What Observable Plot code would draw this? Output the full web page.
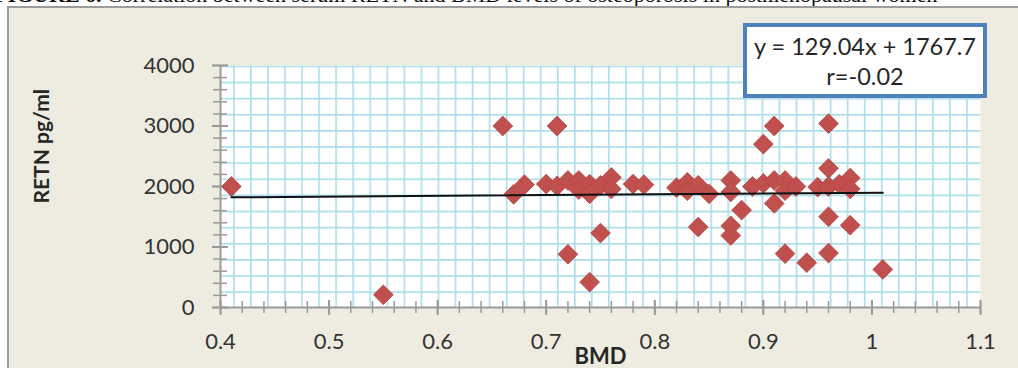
<!DOCTYPE html>
<html><head><meta charset="utf-8">
<script src="https://cdn.jsdelivr.net/npm/d3@7"></script>
<script src="https://cdn.jsdelivr.net/npm/@observablehq/plot@0.6"></script>
<style>
html,body{margin:0;padding:0;background:#fff;width:1018px;height:368px;overflow:hidden;position:relative;}
#cap{position:absolute;left:0;top:0;width:1018px;height:6px;overflow:hidden;}
#cap span{position:absolute;left:-6px;top:-16px;white-space:nowrap;font-family:"Liberation Serif",serif;font-size:22px;line-height:22px;color:#111;}
#frame{position:absolute;left:7px;top:6px;width:1011px;height:362px;background:#EEECE1;border-left:2px solid #9C9C9C;border-top:2px solid #9C9C9C;}
#chart{position:absolute;left:0;top:0;}
#legend{position:absolute;left:743px;top:23px;width:244px;height:75px;box-sizing:border-box;border:4px solid #4F81BD;background:#fff;text-align:center;font-family:Lato,sans-serif;font-size:23.5px;line-height:30px;color:#262626;padding-top:4px;}
</style></head>
<body>
<div id="cap"><span><b>FIGURE 6.</b> Correlation between serum RETN and BMD levels of osteoporosis in postmenopausal women</span></div>
<div id="frame"></div>
<div id="chart"></div>
<div id="legend"><div>y = 129.04x + 1767.7</div><div>r=-0.02</div></div>
<script>
const bmd  = [0.41, 0.55, 0.66, 0.71, 0.67, 0.68, 0.70, 0.71, 0.72, 0.73, 0.73, 0.74, 0.74, 0.75, 0.76, 0.76, 0.78, 0.79, 0.82, 0.83, 0.83, 0.84, 0.85, 0.87, 0.87, 0.88, 0.89, 0.90, 0.90, 0.91, 0.91, 0.91, 0.92, 0.92, 0.93, 0.95, 0.96, 0.96, 0.96, 0.96, 0.96, 0.97, 0.98, 0.98, 0.98, 0.92, 0.94, 1.01, 0.75, 0.72, 0.74, 0.84, 0.87, 0.87];
const retn = [2000, 210, 3000, 3000, 1870, 2030, 2040, 2010, 2100, 2100, 1950, 2040, 1880, 2020, 2150, 1960, 2040, 2030, 1980, 2070, 1930, 2020, 1880, 2100, 1910, 1610, 2000, 2700, 2050, 3000, 2100, 1720, 2100, 1930, 2000, 1990, 3040, 2300, 2000, 1500, 900, 2040, 2140, 1960, 1360, 890, 740, 630, 1230, 880, 420, 1330, 1350, 1190];
const slope = 129.04, intercept = 1767.7;
const xTicks = [0.4, 0.5, 0.6, 0.7, 0.8, 0.9, 1, 1.1];
const yTicks = [0, 1000, 2000, 3000, 4000];
const xMinor = d3.range(0, 36).map(i => 0.4 + i * 0.02);
const yMinor = d3.range(0, 4001, 200);

const points = bmd.map((x, i) => ({BMD: x, RETN: retn[i]}));
const trend = d3.extent(bmd).map(x => ({BMD: x, RETN: slope * x + intercept}));
const axisGray = "#9A9A9A";

const chart = Plot.plot({
  width: 1018, height: 368,
  marginLeft: 220, marginRight: 38, marginTop: 65, marginBottom: 61,
  style: {background: "transparent", fontFamily: "Lato, sans-serif", fontSize: "22px", color: "#333", overflow: "visible"},
  x: {domain: [0.4, 1.1], axis: null},
  y: {domain: [0, 4000], axis: null},
  marks: [
    Plot.frame({fill: "white", stroke: null}),
    Plot.frame({fill: "url(#gp)", stroke: null}),
    Plot.ruleX([0.4], {stroke: axisGray, strokeWidth: 2}),
    Plot.ruleY([0], {stroke: axisGray, strokeWidth: 2}),
    Plot.axisX({ticks: xMinor, tickSize: 12, dy: -6, fill: "none", stroke: axisGray, strokeWidth: 1.5, label: null}),
    Plot.axisX({ticks: xTicks, tickSize: 15, dy: -7, fill: "none", stroke: axisGray, strokeWidth: 2, label: null}),
    Plot.axisY({ticks: yMinor, tickSize: 14, dx: 7, fill: "none", stroke: axisGray, strokeWidth: 1.5, label: null}),
    Plot.axisY({ticks: yTicks, tickSize: 16, dx: 8, fill: "none", stroke: axisGray, strokeWidth: 2, label: null}),
    Plot.axisX({ticks: xTicks, tickSize: 0, tickPadding: 26, stroke: "none", fill: "#333", tickFormat: d => String(+d.toFixed(1)), label: null}),
    Plot.axisY({ticks: yTicks, tickSize: 0, tickPadding: 26, stroke: "none", fill: "#333", tickFormat: d => String(d), label: null}),
    Plot.text(["RETN pg/ml"], {text: d => d, frameAnchor: "left", rotate: -90, dx: -178, dy: 17, fontFamily: "Lato, sans-serif", fontWeight: "bold", fontSize: 21, fill: "#262626"}),
    Plot.text(["BMD"], {text: d => d, frameAnchor: "bottom", lineAnchor: "middle", dy: 49.4, fontFamily: "Lato, sans-serif", fontWeight: "bold", fontSize: 22, fill: "#262626"}),
    Plot.dot(points, {x: "BMD", y: "RETN", symbol: "diamond2", r: 8.9, fill: "#C0504D", stroke: "#B7433F", strokeWidth: 0.8}),
    Plot.line(trend, {x: "BMD", y: "RETN", stroke: "#111", strokeWidth: 2})
  ]
});

const ns = "http://www.w3.org/2000/svg";
const defs = document.createElementNS(ns, "defs");
const pat = document.createElementNS(ns, "pattern");
pat.setAttribute("id", "gp");
pat.setAttribute("patternUnits", "userSpaceOnUse");
pat.setAttribute("x", "232.5");
pat.setAttribute("y", "65");
pat.setAttribute("width", "17.05");
pat.setAttribute("height", "16.13");
const p = document.createElementNS(ns, "path");
p.setAttribute("d", "M0.8,0V16.13M0,0.8H17.05");
p.setAttribute("stroke", "#A9DDE9");
p.setAttribute("stroke-width", "1.6");
p.setAttribute("fill", "none");
pat.appendChild(p);
defs.appendChild(pat);
chart.insertBefore(defs, chart.firstChild);
document.getElementById("chart").appendChild(chart);
</script>
</body></html>
